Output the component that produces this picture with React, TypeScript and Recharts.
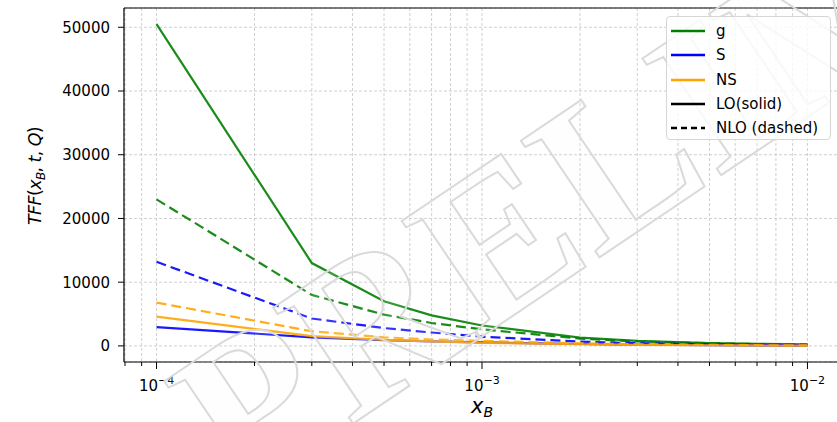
import React from "react";
import {
    LineChart,
    Line,
    XAxis,
    YAxis,
    CartesianGrid,
    ReferenceLine,
} from "recharts";

// x_B sample points
const xB = [1e-4, 3e-4, 5e-4, 7e-4, 1e-3, 2e-3, 3e-3, 5e-3, 7e-3, 1e-2];

// TFF values
const gLO = [50500, 13000, 7000, 4800, 3200, 1300, 800, 450, 330, 250];
const gNLO = [23000, 8000, 4900, 3600, 2600, 1150, 700, 420, 300, 220];
const sLO = [2950, 1350, 900, 700, 550, 300, 200, 120, 90, 60];
const sNLO = [13200, 4300, 2800, 2100, 1450, 680, 420, 250, 180, 120];
const nsLO = [4600, 1550, 950, 700, 480, 260, 170, 100, 70, 50];
const nsNLO = [6800, 2300, 1350, 1000, 800, 400, 260, 160, 110, 80];

const yTicks = [0, 10000, 20000, 30000, 40000, 50000];
const xMajor = [1e-4, 1e-3, 1e-2];
const xMinor = [
    8e-5, 9e-5,
    2e-4, 3e-4, 4e-4, 5e-4, 6e-4, 7e-4, 8e-4, 9e-4,
    2e-3, 3e-3, 4e-3, 5e-3, 6e-3, 7e-3, 8e-3, 9e-3,
];

const legendItems = [
    { label: "g", color: "green", dash: "" },
    { label: "S", color: "blue", dash: "" },
    { label: "NS", color: "orange", dash: "" },
    { label: "LO(solid)", color: "#000", dash: "" },
    { label: "NLO (dashed)", color: "#000", dash: "6 4" },
];

const X_DOMAIN: [number, number] = [10 ** -4.1, 10 ** -1.9];
const Y_DOMAIN: [number, number] = [-2525, 53025];

const data = xB.map((x, i) => ({
    x,
    gLO: gLO[i],
    gNLO: gNLO[i],
    sLO: sLO[i],
    sNLO: sNLO[i],
    nsLO: nsLO[i],
    nsNLO: nsNLO[i],
}));

const allXTicks = [...xMajor, ...xMinor].sort((a, b) => a - b);

const XTick = (props: any) => {
    const { x, y, payload } = props;
    const v = payload.value;
    const exp = Math.round(Math.log10(v));
    const major = xMajor.some((m) => Math.abs(Math.log10(m) - Math.log10(v)) < 1e-6);
    return (
        <g>
            <line x1={x} x2={x} y1={y} y2={y + (major ? 7 : 4)} stroke="#000" strokeWidth={1} />
            {major && (
                <text x={x} y={y + 29} textAnchor="middle" fontSize={15} fill="#000">
                    10
                    <tspan dy={-7} fontSize={11}>{"\u2212" + Math.abs(exp)}</tspan>
                </text>
            )}
        </g>
    );
};

const YLabel = () => (
    <text
        x={41}
        y={176}
        transform="rotate(-90 41 176)"
        textAnchor="middle"
        fontSize={17.5}
        letterSpacing={-0.6}
        fill="#000"
    >
        <tspan fontStyle="italic">TFF</tspan>
        <tspan>(</tspan>
        <tspan fontStyle="italic">x</tspan>
        <tspan dy={4} fontSize={12} fontStyle="italic">B</tspan>
        <tspan dy={-4}>, </tspan>
        <tspan fontStyle="italic">t</tspan>
        <tspan>, </tspan>
        <tspan fontStyle="italic">Q</tspan>
        <tspan>)</tspan>
    </text>
);

const XLabel = () => (
    <text x={482} y={413} textAnchor="middle" fontSize={21} fill="#000">
        <tspan fontStyle="italic">x</tspan>
        <tspan dy={4} fontSize={14} fontStyle="italic">B</tspan>
    </text>
);

const series = [
    { key: "gLO", color: "green", dash: undefined },
    { key: "gNLO", color: "green", dash: "10 5" },
    { key: "sLO", color: "blue", dash: undefined },
    { key: "sNLO", color: "blue", dash: "10 5" },
    { key: "nsLO", color: "orange", dash: undefined },
    { key: "nsNLO", color: "orange", dash: "10 5" },
];

export default function App() {
    return (
        <div
            style={{
                position: "absolute",
                left: 0,
                top: 0,
                width: 837,
                height: 422,
                overflow: "hidden",
                background: "#fff",
                fontFamily: "'DejaVu Sans', sans-serif",
            }}
        >
            <LineChart
                width={840}
                height={422}
                data={data}
                margin={{ top: 8, right: 0, left: 0, bottom: 0 }}
                style={{ fontFamily: "'DejaVu Sans', sans-serif" }}
            >
                <CartesianGrid stroke="#c4c4c4" strokeDasharray="3 2" strokeWidth={0.8} />
                <XAxis
                    dataKey="x"
                    type="number"
                    scale="log"
                    domain={X_DOMAIN}
                    allowDataOverflow
                    ticks={allXTicks}
                    interval={0}
                    height={60}
                    tickSize={0}
                    tickMargin={0}
                    tickLine={false}
                    axisLine={{ stroke: "#000", strokeWidth: 1.2 }}
                    tick={<XTick />}
                    label={<XLabel />}
                />
                <YAxis
                    type="number"
                    domain={Y_DOMAIN}
                    allowDataOverflow
                    ticks={yTicks}
                    interval={0}
                    width={124}
                    tickSize={6}
                    tickMargin={8}
                    tickLine={{ stroke: "#000" }}
                    axisLine={{ stroke: "#000", strokeWidth: 1.2 }}
                    tick={{ fill: "#000", fontSize: 15 }}
                    label={<YLabel />}
                />
                <ReferenceLine y={Y_DOMAIN[1]} stroke="#000" strokeWidth={1.2} />
                {series.map((s) => (
                    <Line
                        key={s.key}
                        dataKey={s.key}
                        type="linear"
                        stroke={s.color}
                        strokeWidth={2.2}
                        strokeOpacity={0.9}
                        strokeDasharray={s.dash}
                        dot={false}
                        activeDot={false}
                        isAnimationActive={false}
                    />
                ))}
            </LineChart>

            {/* watermark */}
            <svg
                width={837}
                height={422}
                style={{ position: "absolute", left: 0, top: 0, pointerEvents: "none" }}
            >
                <text
                    x={240}
                    y={500}
                    transform="rotate(-34 240 500)"
                    fontSize={215}
                    fontFamily="'Liberation Serif', serif"
                    fontWeight="bold"
                    fill="rgba(250,250,250,0.12)"
                    stroke="#dadada"
                    strokeWidth={2}
                >
                    PRELIMINARY
                </text>
            </svg>

            {/* legend */}
            <div
                style={{
                    position: "absolute",
                    left: 666,
                    top: 16,
                    width: 165,
                    height: 124,
                    border: "1px solid #d6d6d6",
                    borderRadius: 4,
                    background: "rgba(255,255,255,0.8)",
                    boxSizing: "border-box",
                }}
            >
                {legendItems.map((it, i) => (
                    <div
                        key={it.label}
                        style={{
                            position: "absolute",
                            left: 0,
                            top: 4 + i * 24.3,
                            height: 20,
                            display: "flex",
                            alignItems: "center",
                            fontSize: 15,
                            color: "#000",
                            whiteSpace: "nowrap",
                        }}
                    >
                        <svg width={46} height={20} style={{ marginLeft: 3 }}>
                            <line
                                x1={1}
                                x2={35}
                                y1={10}
                                y2={10}
                                stroke={it.color}
                                strokeWidth={2.4}
                                strokeDasharray={it.dash || undefined}
                            />
                        </svg>
                        <span>{it.label}</span>
                    </div>
                ))}
            </div>
        </div>
    );
}
